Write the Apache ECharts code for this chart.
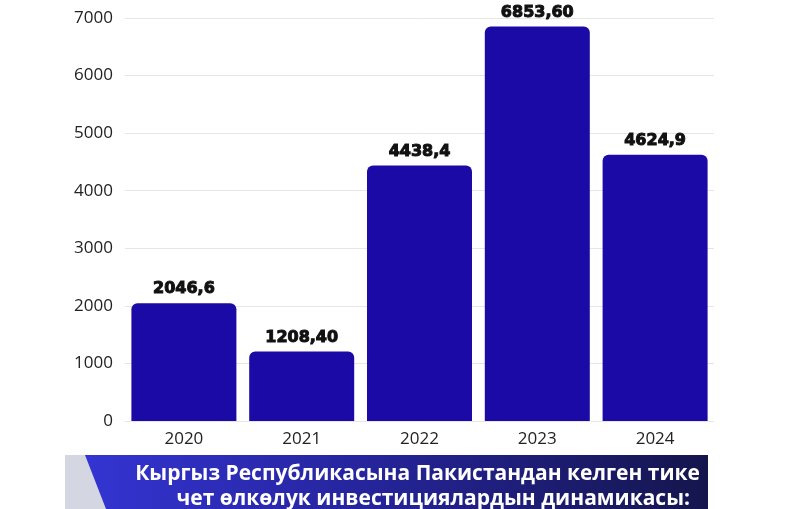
<!DOCTYPE html><html><head><meta charset="utf-8"><script src="https://cdn.jsdelivr.net/npm/echarts@6/dist/echarts.min.js"></script>
<style>html,body{margin:0;padding:0;background:#fff}#c{width:800px;height:509px}</style></head><body><div id="c"></div><script>
const categories=['2020','2021','2022','2023','2024'];
const values=[2046.6,1208.4,4438.4,6853.6,4624.9];
const labels=['2046,6','1208,40','4438,4','6853,60','4624,9'];
const titleLines=['Кыргыз Республикасына Пакистандан келген тике','чет өлкөлук инвестициялардын динамикасы:'];
const c=echarts.init(document.getElementById('c'));
c.setOption({
animation:false,
grid:{left:125,right:86,top:18,bottom:88},
xAxis:{type:'category',data:categories,axisLine:{show:false},axisTick:{show:false},axisLabel:{color:'#222',fontSize:17,fontFamily:'Open Sans',margin:10}},
yAxis:{type:'value',min:0,max:7000,interval:1000,axisLabel:{formatter:v=>String(v),color:'#222',fontSize:17,fontFamily:'Open Sans',margin:12},splitLine:{lineStyle:{color:'#e6e6e6'}}},
series:[{type:'bar',data:values,barWidth:105,itemStyle:{color:'#1c0aa6',borderRadius:[6,6,0,0]},
label:{show:true,position:'top',distance:6,formatter:p=>labels[p.dataIndex],fontFamily:'DejaVu Sans',fontWeight:'bold',fontSize:16,color:'#111',textBorderColor:'#111',textBorderWidth:1}}],
graphic:[
{type:'rect',shape:{x:65,y:455,width:643,height:54},style:{fill:new echarts.graphic.LinearGradient(0,0,1,0,[{offset:0,color:'#3535d6'},{offset:0.45,color:'#26259e'},{offset:1,color:'#15154d'}])}},
{type:'polygon',shape:{points:[[65,455],[85,455],[106,509],[65,509]]},style:{fill:'#d4d7e2'}},
{type:'text',style:{x:700,y:474,text:titleLines[0],align:'right',verticalAlign:'middle',fill:'#fff',font:'bold 21px "Open Sans"'}},
{type:'text',style:{x:690,y:499,text:titleLines[1],align:'right',verticalAlign:'middle',fill:'#fff',font:'bold 21px "Open Sans"'}}
]});
</script></body></html>
